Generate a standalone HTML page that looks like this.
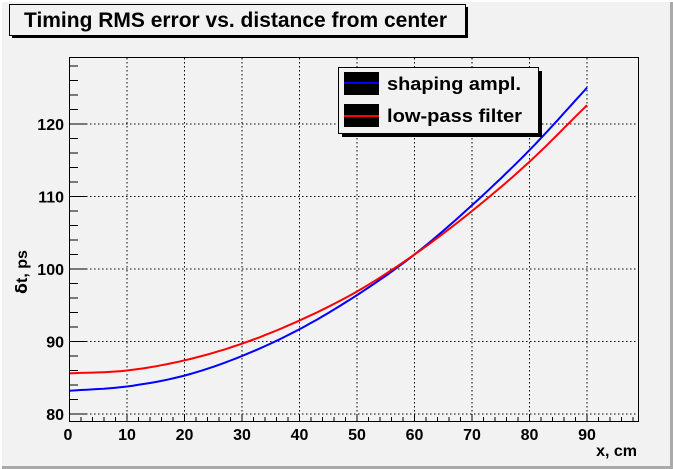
<!DOCTYPE html><html><head><style>body{margin:0;background:#f2f2f2}svg{display:block}text{font-family:"Liberation Sans",sans-serif;font-weight:bold}</style></head><body>
<svg id="s" width="673" height="469" xmlns="http://www.w3.org/2000/svg">
<rect x="0" y="0" width="673" height="469" fill="#f2f2f2"/>
<line x1="0" y1="467.5" x2="673" y2="467.5" stroke="#aaa" stroke-width="3"/>
<line x1="671.5" y1="0" x2="671.5" y2="469" stroke="#aaa" stroke-width="3"/>
<line x1="1" y1="0" x2="1" y2="469" stroke="#fff" stroke-width="2"/>
<line x1="0" y1="1" x2="673" y2="1" stroke="#fff" stroke-width="2"/>
<rect x="12" y="7" width="456" height="31" fill="#000"/>
<rect x="9.5" y="4.5" width="456" height="31" fill="#f2f2f2" stroke="#000"/>
<text x="24" y="27" font-size="21" textLength="423" lengthAdjust="spacingAndGlyphs">Timing RMS error vs. distance from center</text>
<g id="g"></g>
<rect x="69.5" y="57.5" width="569" height="364" fill="none" stroke="#000"/>
<rect x="342" y="71" width="200" height="66" fill="#000"/>
<rect x="338.5" y="67.5" width="200" height="66" fill="#f2f2f2" stroke="#000"/>
<rect x="344" y="72" width="35" height="23" fill="#000"/>
<line x1="344" y1="83" x2="379" y2="83" stroke="#00f" stroke-width="2"/>
<rect x="344" y="104" width="35" height="23" fill="#000"/>
<line x1="344" y1="116" x2="379" y2="116" stroke="#f00" stroke-width="2"/>
<text x="387" y="90" font-size="18" textLength="134" lengthAdjust="spacingAndGlyphs">shaping ampl.</text>
<text x="387" y="122" font-size="18" textLength="135" lengthAdjust="spacingAndGlyphs">low-pass filter</text>
<text x="637" y="456" font-size="16" text-anchor="end">x, cm</text>
<text transform="translate(27,272) rotate(-90)" font-size="16" text-anchor="middle"><tspan font-family="DejaVu Sans">δ</tspan>t, ps</text>
</svg>
<script>
var g=document.getElementById('g'),h='';
function X(v){return 69.5+v*5.75}function Y(v){return 414-(v-80)*7.25}
for(var v=10;v<=90;v+=10)h+='<line x1="'+X(v)+'" y1="58" x2="'+X(v)+'" y2="421" stroke="#000" stroke-dasharray="1.5,2.5"/>';
for(var v=80;v<=120;v+=10)h+='<line x1="70" y1="'+Y(v)+'" x2="638" y2="'+Y(v)+'" stroke="#000" stroke-dasharray="1.5,2.5"/>';
for(var v=0;v<=98;v+=2){var L=v%10==0?7:4;h+='<line x1="'+X(v)+'" y1="421" x2="'+X(v)+'" y2="'+(421-L)+'" stroke="#000"/>';}
for(var v=10;v<=90;v+=10)h+='<text x="'+X(v)+'" y="440" font-size="16" text-anchor="middle">'+v+'</text>';
h+='<text x="68" y="440" font-size="16" text-anchor="middle">0</text>';
for(var v=80;v<=128;v+=2){var L=v%10==0?16:8;h+='<line x1="70" y1="'+Y(v)+'" x2="'+(70+L)+'" y2="'+Y(v)+'" stroke="#000"/>';}
for(var v=80;v<=120;v+=10)h+='<text x="64" y="'+(Y(v)+6)+'" font-size="16" text-anchor="end">'+v+'</text>';
var B=[83.2,83.8,85.3,88,91.7,96.4,102,108.8,116.4,125],R=[85.6,86,87.4,89.7,92.9,96.9,102,108,114.8,122.6];
function path(a,c){var p='';for(var i=0;i<=90;i++){var k=Math.min(8,Math.floor(i/10)),t=(i-k*10)/10;var p0=a[Math.max(k-1,0)],p1=a[k],p2=a[k+1],p3=a[Math.min(k+2,9)];if(k==0)p0=2*p1-p2;if(k+2>9)p3=2*p2-p1;
var y=0.5*(2*p1+(-p0+p2)*t+(2*p0-5*p1+4*p2-p3)*t*t+(-p0+3*p1-3*p2+p3)*t*t*t);p+=(i?'L':'M')+X(i).toFixed(1)+' '+Y(y).toFixed(1);}
return '<path d="'+p+'" fill="none" stroke="'+c+'" stroke-width="2"/>';}
h+=path(B,'#00f')+path(R,'#f00');g.innerHTML=h;
</script></body></html>
